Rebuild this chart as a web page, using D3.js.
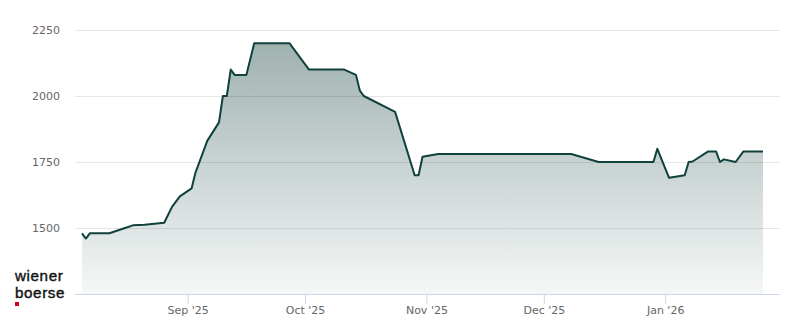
<!DOCTYPE html>
<html>
<head>
<meta charset="utf-8">
<script src="https://cdn.jsdelivr.net/npm/d3@7"></script>
<style>
  body { margin: 0; background: #fff; }
  svg { display: block; font-family: "DejaVu Sans", sans-serif; }
</style>
</head>
<body>
<svg id="drawing_region"></svg>
<script>
// price points
const dates = [
  '2025-08-05','2025-08-06','2025-08-07','2025-08-12','2025-08-16','2025-08-18','2025-08-21',
  '2025-08-26','2025-08-28','2025-08-30','2025-09-02','2025-09-03','2025-09-06','2025-09-09',
  '2025-09-10','2025-09-11','2025-09-12','2025-09-13','2025-09-16','2025-09-18','2025-09-27',
  '2025-10-02','2025-10-11','2025-10-14','2025-10-15','2025-10-16','2025-10-24','2025-10-29',
  '2025-10-30','2025-10-31','2025-11-04','2025-12-08','2025-12-15','2025-12-29','2025-12-30',
  '2026-01-02','2026-01-06','2026-01-07','2026-01-08','2026-01-12','2026-01-14','2026-01-15',
  '2026-01-16','2026-01-19','2026-01-21','2026-01-26'
];
const prices = [
  1480, 1460, 1480, 1480, 1500, 1510, 1512,
  1520, 1580, 1620, 1650, 1710, 1830, 1900,
  2000, 2000, 2100, 2080, 2080, 2200, 2200,
  2100, 2100, 2080, 2020, 2000, 1940, 1700,
  1700, 1770, 1780, 1780, 1750, 1750, 1800,
  1690, 1700, 1750, 1752, 1790, 1790, 1750,
  1760, 1750, 1790, 1790
];
const yticks = [1500, 1750, 2000, 2250];
const xtick_dates = ['2025-09-01','2025-10-01','2025-11-01','2025-12-01','2026-01-01'];
const xtick_labels = ["Sep '25", "Oct '25", "Nov '25", "Dec '25", "Jan '26"];

const parse = d3.timeParse('%Y-%m-%d');
const data = dates.map((d, i) => ({ date: parse(d), value: prices[i] }));

const width = 800, height = 324;
const plot = { left: 75, right: 780, top: 30, bottom: 294 };

const svg = d3.select('#drawing_region')
    .attr('width', width)
    .attr('height', height);

const xscale = d3.scaleTime()
    .domain(d3.extent(data, d => d.date))
    .range([82, 763]);

const yscale = d3.scaleLinear()
    .domain([1250, 2250])
    .range([plot.bottom, plot.top]);

// gradient for the area
const grad = svg.append('defs').append('linearGradient')
    .attr('id', 'areaFill')
    .attr('x1', 0).attr('y1', 0).attr('x2', 0).attr('y2', 1);
grad.append('stop').attr('offset', '0%').attr('stop-color', '#0f3d3a').attr('stop-opacity', 0.4);
grad.append('stop').attr('offset', '100%').attr('stop-color', '#0f3d3a').attr('stop-opacity', 0.04);

// horizontal grid lines
svg.append('g')
    .selectAll('line')
    .data(yticks)
    .enter()
    .append('line')
    .attr('x1', plot.left)
    .attr('x2', plot.right)
    .attr('y1', d => yscale(d) + 0.5)
    .attr('y2', d => yscale(d) + 0.5)
    .attr('stroke', '#e6e6e6')
    .attr('stroke-width', 1);

// y labels
svg.append('g')
    .selectAll('text')
    .data(yticks)
    .enter()
    .append('text')
    .attr('x', 60)
    .attr('y', d => yscale(d))
    .attr('dy', '0.35em')
    .attr('text-anchor', 'end')
    .style('font-size', '11px')
    .attr('fill', '#666')
    .text(d => d);

// area + line
const area = d3.area()
    .x(d => xscale(d.date))
    .y0(plot.bottom)
    .y1(d => yscale(d.value));

const line = d3.line()
    .x(d => xscale(d.date))
    .y(d => yscale(d.value));

svg.append('path')
    .datum(data)
    .attr('d', area)
    .attr('fill', 'url(#areaFill)');

svg.append('path')
    .datum(data)
    .attr('d', line)
    .attr('fill', 'none')
    .attr('stroke', '#10423d')
    .attr('stroke-width', 2)
    .attr('stroke-linejoin', 'round');

// x axis
const xaxis = d3.axisBottom(xscale)
    .tickValues(xtick_dates.map(parse))
    .tickFormat((d, i) => xtick_labels[i])
    .tickSizeInner(10)
    .tickSizeOuter(0)
    .tickPadding(2);

const xaxis_group = svg.append('g')
    .attr('transform', `translate(0, ${plot.bottom})`)
    .call(xaxis);
xaxis_group.select('.domain').remove();
xaxis_group.selectAll('.tick line').attr('stroke', '#ccd6eb');
xaxis_group.selectAll('.tick text')
    .attr('fill', '#666')
    .style('font-size', '11px')
    .style('font-family', '"DejaVu Sans", sans-serif');

svg.append('line')
    .attr('x1', plot.left)
    .attr('x2', plot.right)
    .attr('y1', plot.bottom + 0.5)
    .attr('y2', plot.bottom + 0.5)
    .attr('stroke', '#ccd6eb');

// logo
const logo = svg.append('g')
    .style('font-family', '"Liberation Sans", Arial, sans-serif')
    .style('font-size', '15.2px')
    .style('letter-spacing', '0.6px')
    .attr('fill', '#111')
    .attr('stroke', '#111')
    .attr('stroke-width', 0.4);
logo.append('text').attr('x', 15).attr('y', 281).text('wiener');
logo.append('text').attr('x', 15).attr('y', 298).text('boerse');
svg.append('rect').attr('x', 15).attr('y', 302).attr('width', 4).attr('height', 4).attr('fill', '#d2001e');
</script>
</body>
</html>
